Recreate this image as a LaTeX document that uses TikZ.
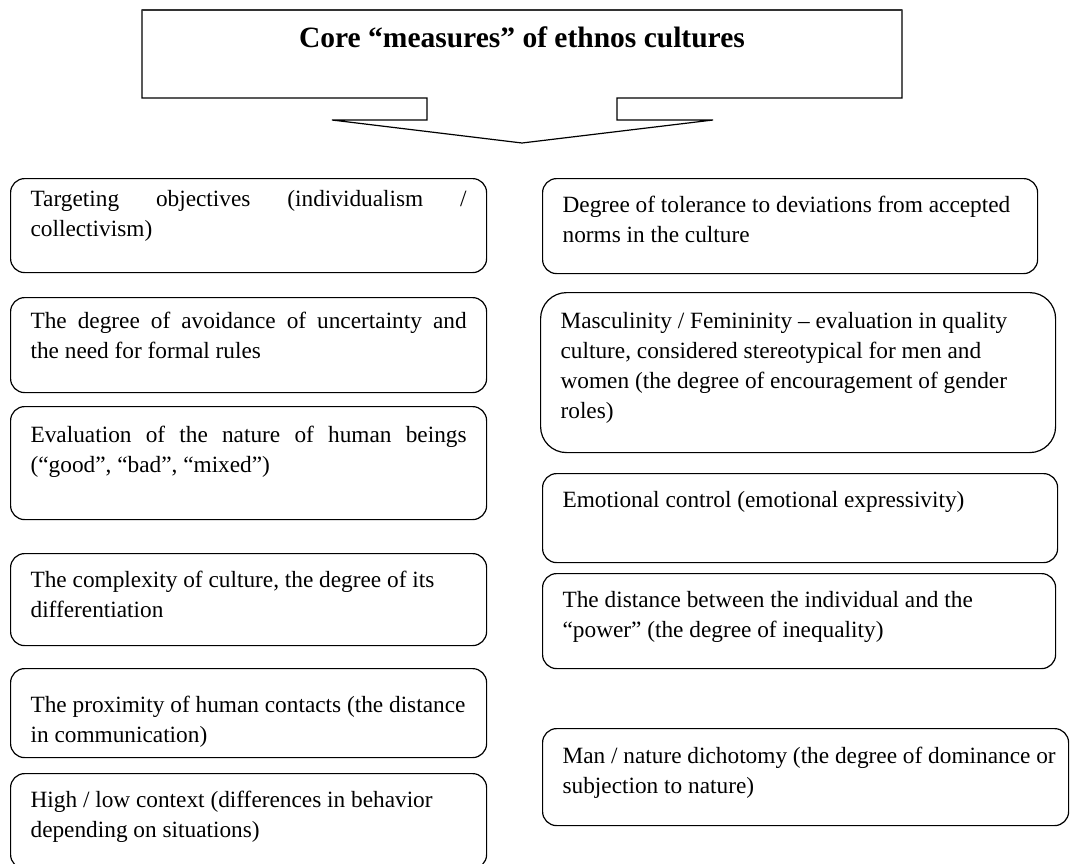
\documentclass[tikz,border=0pt]{standalone}
\usepackage{fontspec}
\setmainfont{Liberation Serif}

\tikzset{
  measure/.style={draw, line width=1.2pt, rounded corners=14pt, anchor=north west,
    inner xsep=20pt, inner ysep=0pt, font=\fontsize{23.3}{30}\selectfont},
  callout/.style={line width=1.2pt, line join=miter},
}

% [first baseline]{width}{height}{text}
\newcommand{\lefttext}[4][34]{\parbox[t][#3pt][t]{#2pt}{\rule{0pt}{#1pt}#4}}
\newcommand{\righttext}[4][34]{\parbox[t][#3pt][t]{#2pt}{\raggedright\rule{0pt}{#1pt}#4}}

\begin{document}
\begin{tikzpicture}[x=1pt, y=-1pt]
  \useasboundingbox (0,0) rectangle (1071,863);
  % callout with the title
  \draw[callout] (142,10) -- (902,10) -- (902,98) -- (617,98) -- (617,120) -- (713,120)
    -- (522,143) -- (332,120) -- (427,120) -- (427,98) -- (142,98) -- cycle;
  \draw[line width=2.4pt, black!80] (142,10) -- (902,10);
  \node[anchor=base, font=\fontsize{29.5}{34}\selectfont\bfseries] (title) at (522,47)
    {Core “measures” of ethnos cultures};
  % left column
  \node[measure] (targeting) at (10,178)
    {\lefttext[28]{436}{94}{Targeting objectives (individualism /\linebreak collectivism)}};
  \node[measure] (avoidance) at (10,297)
    {\lefttext[31]{436}{95}{The degree of avoidance of uncertainty and\linebreak the need for formal rules}};
  \node[measure] (nature) at (10,406)
    {\lefttext[36]{436}{113}{Evaluation of the nature of human beings\linebreak (“good”, “bad”, “mixed”)}};
  \node[measure] (complexity) at (10,553)
    {\lefttext{436}{92}{The complexity of culture, the degree of its\newline differentiation}};
  \node[measure] (proximity) at (10,668)
    {\lefttext[44]{436}{89}{The proximity of human contacts (the distance\newline in communication)}};
  \node[measure] (context) at (10,773)
    {\lefttext{436}{95}{High / low context (differences in behavior\newline depending on situations)}};
  % right column
  \node[measure] (tolerance) at (542,178)
    {\righttext{455}{95}{Degree of tolerance to deviations from accepted\\ norms in the culture}};
  \node[measure, rounded corners=26pt] (gender) at (540,292)
    {\righttext[36]{475}{160}{Masculinity / Femininity – evaluation in quality\\ culture, considered stereotypical for men and\\ women (the degree of encouragement of gender\\ roles)}};
  \node[measure] (emotion) at (542,473)
    {\righttext{475}{89}{Emotional control (emotional expressivity)}};
  \node[measure] (power) at (542,573)
    {\righttext{473}{95}{The distance between the individual and the\\ “power” (the degree of inequality)}};
  \node[measure] (dichotomy) at (542,728)
    {\righttext[35]{486}{97}{\mbox{Man / nature dichotomy (the degree of dominance or}\\ subjection to nature)}};
\end{tikzpicture}
\end{document}
